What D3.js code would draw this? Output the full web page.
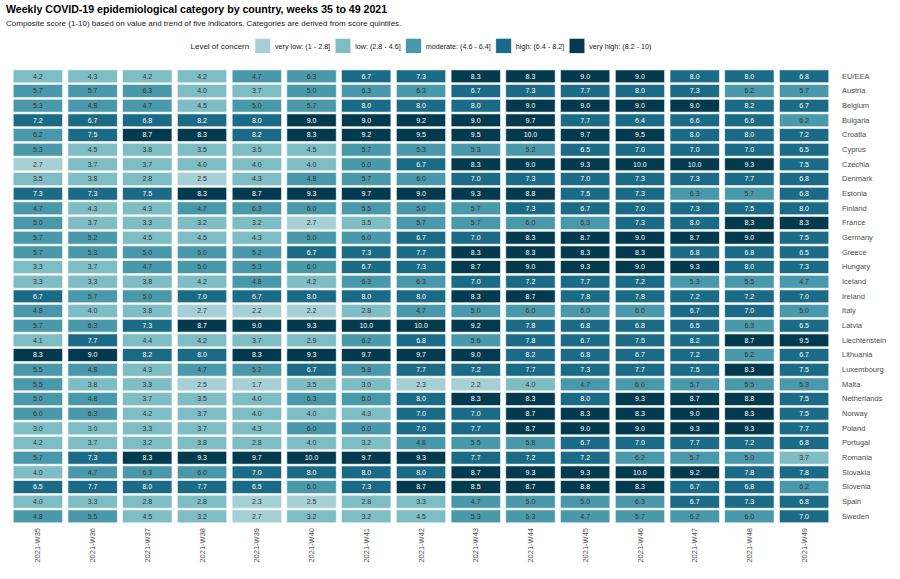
<!DOCTYPE html>
<html>
<head>
<meta charset="utf-8">
<script src="https://cdn.jsdelivr.net/npm/d3@7"></script>
<style>
  body { margin: 0; background: #fff; }
  svg { font-family: "Liberation Sans", Arial, sans-serif; }
</style>
</head>
<body>
<div id="chart"></div>
<script>
// weeks on x axis
const weeks = ["2021-W35", "2021-W36", "2021-W37", "2021-W38", "2021-W39", "2021-W40", "2021-W41", "2021-W42",
  "2021-W43", "2021-W44", "2021-W45", "2021-W46", "2021-W47", "2021-W48", "2021-W49"];

const countries = ["EU/EEA", "Austria", "Belgium", "Bulgaria", "Croatia", "Cyprus", "Czechia", "Denmark", "Estonia",
  "Finland", "France", "Germany", "Greece", "Hungary", "Iceland", "Ireland", "Italy", "Latvia", "Liechtenstein",
  "Lithuania", "Luxembourg", "Malta", "Netherlands", "Norway", "Poland", "Portugal", "Romania", "Slovakia",
  "Slovenia", "Spain", "Sweden"];

// one row per country, W35 -> W49
const scores = [
  [4.2, 4.3, 4.2, 4.2, 4.7, 6.3, 6.7, 7.3, 8.3, 8.3, 9.0, 9.0, 8.0, 8.0, 6.8],
  [5.7, 5.7, 6.3, 4.0, 3.7, 5.0, 6.3, 6.3, 6.7, 7.3, 7.7, 8.0, 7.3, 6.2, 5.7],
  [5.3, 4.8, 4.7, 4.5, 5.0, 5.7, 8.0, 8.0, 8.0, 9.0, 9.0, 9.0, 9.0, 8.2, 6.7],
  [7.2, 6.7, 6.8, 8.2, 8.0, 9.0, 9.0, 9.2, 9.0, 9.7, 7.7, 6.4, 6.6, 6.6, 6.2],
  [6.2, 7.5, 8.7, 8.3, 8.2, 8.3, 9.2, 9.5, 9.5, 10.0, 9.7, 9.5, 8.0, 8.0, 7.2],
  [5.3, 4.5, 3.8, 3.5, 3.5, 4.5, 5.7, 5.3, 5.3, 5.2, 6.5, 7.0, 7.0, 7.0, 6.5],
  [2.7, 3.7, 3.7, 4.0, 4.0, 4.0, 6.0, 6.7, 8.3, 9.0, 9.3, 10.0, 10.0, 9.3, 7.5],
  [3.5, 3.8, 2.8, 2.5, 4.3, 4.8, 5.7, 6.0, 7.0, 7.3, 7.0, 7.3, 7.3, 7.7, 6.8],
  [7.3, 7.3, 7.5, 8.3, 8.7, 9.3, 9.7, 9.0, 9.3, 8.8, 7.5, 7.3, 6.3, 5.7, 6.8],
  [4.7, 4.3, 4.3, 4.7, 6.3, 6.0, 5.5, 5.0, 5.7, 7.3, 6.7, 7.0, 7.3, 7.5, 8.0],
  [5.0, 3.7, 3.3, 3.2, 3.2, 2.7, 3.5, 5.7, 5.7, 6.0, 6.3, 7.3, 8.0, 8.3, 8.3],
  [5.7, 5.2, 4.5, 4.5, 4.3, 5.0, 6.0, 6.7, 7.0, 8.3, 8.7, 9.0, 8.7, 9.0, 7.5],
  [5.7, 5.3, 5.0, 5.0, 5.2, 6.7, 7.3, 7.7, 8.3, 8.3, 8.3, 8.3, 6.8, 6.8, 6.5],
  [3.3, 3.7, 4.7, 5.0, 5.3, 6.0, 6.7, 7.3, 8.7, 9.0, 9.3, 9.0, 9.3, 8.0, 7.3],
  [3.3, 3.3, 3.8, 4.2, 4.8, 4.2, 6.3, 6.3, 7.0, 7.2, 7.7, 7.2, 5.3, 5.5, 4.7],
  [6.7, 5.7, 5.0, 7.0, 6.7, 8.0, 8.0, 8.0, 8.3, 8.7, 7.8, 7.8, 7.2, 7.2, 7.0],
  [4.8, 4.0, 3.8, 2.7, 2.2, 2.2, 2.8, 4.7, 5.0, 6.0, 6.0, 6.0, 6.7, 7.0, 5.0],
  [5.7, 6.3, 7.3, 8.7, 9.0, 9.3, 10.0, 10.0, 9.2, 7.8, 6.8, 6.8, 6.5, 6.3, 6.5],
  [4.1, 7.7, 4.4, 4.2, 3.7, 2.9, 6.2, 6.8, 5.6, 7.8, 6.7, 7.5, 8.2, 8.7, 9.5],
  [8.3, 9.0, 8.2, 8.0, 8.3, 9.3, 9.7, 9.7, 9.0, 8.2, 6.8, 6.7, 7.2, 6.2, 6.7],
  [5.5, 4.8, 4.3, 4.7, 5.2, 6.7, 5.8, 7.7, 7.2, 7.7, 7.3, 7.7, 7.5, 8.3, 7.5],
  [5.5, 3.8, 3.3, 2.5, 1.7, 3.5, 3.0, 2.3, 2.2, 4.0, 4.7, 6.0, 5.7, 5.5, 5.3],
  [5.0, 4.8, 3.7, 3.5, 4.0, 6.3, 6.0, 8.0, 8.3, 8.3, 8.0, 9.3, 8.7, 8.8, 7.5],
  [6.0, 6.3, 4.2, 3.7, 4.0, 4.0, 4.3, 7.0, 7.0, 8.7, 8.3, 8.3, 9.0, 8.3, 7.5],
  [3.0, 3.0, 3.3, 3.7, 4.3, 6.0, 6.0, 7.0, 7.7, 8.7, 9.0, 9.0, 9.3, 9.3, 7.7],
  [4.2, 3.7, 3.2, 3.8, 2.8, 4.0, 3.2, 4.8, 5.5, 5.8, 6.7, 7.0, 7.7, 7.2, 6.8],
  [5.7, 7.3, 8.3, 9.3, 9.7, 10.0, 9.7, 9.3, 7.7, 7.2, 7.2, 6.2, 5.7, 5.0, 3.7],
  [4.0, 4.7, 6.3, 6.0, 7.0, 8.0, 8.0, 8.0, 8.7, 9.3, 9.3, 10.0, 9.2, 7.8, 7.8],
  [6.5, 7.7, 8.0, 7.7, 6.5, 6.0, 7.3, 8.7, 8.5, 8.7, 8.8, 8.3, 6.7, 6.8, 6.2],
  [4.0, 3.3, 2.8, 2.8, 2.3, 2.5, 2.8, 3.3, 4.7, 5.0, 5.0, 6.3, 6.7, 7.3, 6.8],
  [4.8, 5.5, 4.5, 3.2, 2.7, 3.2, 3.2, 4.5, 5.3, 5.3, 4.7, 5.7, 6.2, 6.0, 7.0]
];

// legend categories
const levels = ["very low: (1 - 2.8]", "low: (2.8 - 4.6]", "moderate: (4.6 - 6.4]", "high: (6.4 - 8.2]", "very high: (8.2 - 10)"];
const levelColors = ["#a7cfd6", "#7ebdc3", "#4999aa", "#1c6b86", "#033a4e"];
// cut points (shown values are rounded, so cut a bit off the labels)
const cuts = [2.75, 4.65, 6.35, 8.25];

const width = 900, height = 579;
const svg = d3.select("#chart").append("svg").attr("width", width).attr("height", height);

const x = d3.scaleBand().domain(weeks).range([10.5, 831.5]).paddingInner(0.1).paddingOuter(0.05);
const y = d3.scaleBand().domain(countries).range([69, 523.7]).paddingInner(0.13).paddingOuter(0.065);
const color = d3.scaleThreshold().domain(cuts).range(levelColors);
const level = d3.scaleThreshold().domain(cuts).range([0, 1, 2, 3, 4]);

// titel
svg.append("text").attr("x", 6).attr("y", 12.5)
  .style("font-size", "10.6px").style("font-weight", "bold").style("fill", "#000")
  .text("Weekly COVID-19 epidemiological category by country, weeks 35 to 49 2021");
svg.append("text").attr("x", 6).attr("y", 25.5)
  .style("font-size", "8px").style("fill", "#222")
  .text("Composite score (1-10) based on value and trend of five indicators. Categories are derived from score quintiles.");

// legend
const legend = svg.append("g");
legend.append("text").attr("x", 190.5).attr("y", 48.8)
  .style("font-size", "8px").style("fill", "#222").text("Level of concern");
let lx = 255;
levels.forEach((lab, i) => {
  legend.append("rect").attr("x", lx).attr("y", 38.3).attr("width", 15.7).attr("height", 15)
    .attr("fill", levelColors[i]).attr("stroke", "#fff").attr("stroke-width", 0.6);
  const t = legend.append("text").attr("x", lx + 20).attr("y", 48.5)
    .style("font-size", "7.2px").style("fill", "#222").text(lab);
  lx = lx + 20 + t.node().getComputedTextLength() + 5;
});

// cells
const cells = [];
scores.forEach((row, r) => row.forEach((v, c) => cells.push({ country: countries[r], week: weeks[c], value: v })));

const g = svg.append("g");
g.selectAll("rect").data(cells).enter().append("rect")
  .attr("x", d => x(d.week))
  .attr("y", d => y(d.country))
  .attr("width", x.bandwidth())
  .attr("height", y.bandwidth())
  .attr("fill", d => color(d.value))
  .attr("stroke", "#e4eff1").attr("stroke-width", 0.6);

g.selectAll("text").data(cells).enter().append("text")
  .attr("x", d => x(d.week) + x.bandwidth() / 2)
  .attr("y", d => y(d.country) + y.bandwidth() / 2)
  .attr("dy", "0.35em")
  .attr("text-anchor", "middle")
  .style("font-size", "7px")
  .style("fill", d => level(d.value) >= 3 ? "#fff" : "#333")
  .text(d => d.value.toFixed(1));

// y akse til højre
const yAxis = svg.append("g").attr("transform", "translate(838,0)")
  .call(d3.axisRight(y).tickSize(0).tickPadding(4));
yAxis.select(".domain").remove();
yAxis.selectAll("text").style("font-size", "7.5px").style("fill", "#4d4d4d")
  .style("font-family", "Liberation Sans, Arial, sans-serif");

// x akse, roterede labels
const xAxis = svg.append("g").attr("transform", "translate(0,524)")
  .call(d3.axisBottom(x).tickSize(0).tickPadding(4));
xAxis.select(".domain").remove();
xAxis.selectAll("text")
  .attr("transform", "rotate(-90)")
  .attr("text-anchor", "end")
  .attr("x", -4).attr("y", 0).attr("dy", "0.35em")
  .style("font-size", "7.5px").style("fill", "#4d4d4d")
  .style("font-family", "Liberation Sans, Arial, sans-serif");
</script>
</body>
</html>
